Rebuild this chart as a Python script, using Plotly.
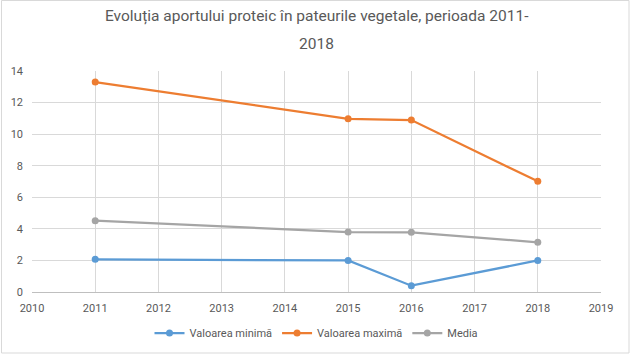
import plotly.graph_objects as go

years = [2011, 2015, 2016, 2018]
val_min = [2.07, 2.0, 0.4, 2.0]
val_max = [13.3, 10.97, 10.89, 7.01]
media = [4.52, 3.8, 3.78, 3.15]
series_names = ["Valoarea minimă", "Valoarea maximă", "Media"]
colors = ["#5B9BD5", "#ED7D31", "#A5A5A5"]
title_lines = ["Evoluția aportului proteic în pateurile vegetale, perioada 2011-", "2018"]

W, H = 632, 355
L, R, T, B = 32, 31, 71, 63
pw, ph = W - L - R, H - T - B

fig = go.Figure()
for name, vals, c in zip(series_names, [val_min, val_max, media], colors):
    fig.add_trace(go.Scatter(x=years, y=vals, name=name, mode="lines+markers",
                             line=dict(color=c, width=2.25),
                             marker=dict(color=c, size=7)))

font_fam = "Roboto, Liberation Sans, sans-serif"
fig.update_layout(
    width=W, height=H, margin=dict(l=L, r=R, t=T, b=B, autoexpand=False),
    paper_bgcolor="white", plot_bgcolor="white",
    font=dict(family=font_fam, color="#595959", size=11),
    xaxis=dict(range=[2010, 2019], dtick=1, tick0=2010, showgrid=True, gridcolor="#D9D9D9",
               gridwidth=1, showline=True, linecolor="#BFBFBF", linewidth=1, mirror=False,
               zeroline=False, ticks="", ticklabelstandoff=6,
               tickfont=dict(size=11, color="#595959")),
    yaxis=dict(range=[0, 14], dtick=2, showgrid=True, gridcolor="#D9D9D9", gridwidth=1,
               zeroline=False, showline=False, ticks="", ticklabelstandoff=8,
               tickfont=dict(size=11, color="#595959")),
    legend=dict(orientation="h", x=0.5, xanchor="center", y=(292 - 333) / ph, yanchor="middle",
                font=dict(size=11, color="#595959"), itemwidth=30, traceorder="normal"),
    showlegend=True,
)

# title lines as annotations
for txt, ypix in zip(title_lines, [16, 44]):
    fig.add_annotation(text=txt, xref="paper", yref="paper", x=(316 - L) / pw,
                       y=(292 - ypix) / ph, showarrow=False, xanchor="center", yanchor="middle",
                       font=dict(size=15.5, color="#595959", family=font_fam))

# chart border
fig.add_shape(type="rect", xref="paper", yref="paper",
              x0=(1.5 - L) / pw, x1=(629 - L) / pw, y0=(292 - 353) / ph, y1=(292 - 0.5) / ph,
              line=dict(color="#D9D9D9", width=1), fillcolor="rgba(0,0,0,0)", layer="below")

fig.write_html("out.html", post_script="document.body.style.margin='0';",
               config={"displayModeBar": False})
